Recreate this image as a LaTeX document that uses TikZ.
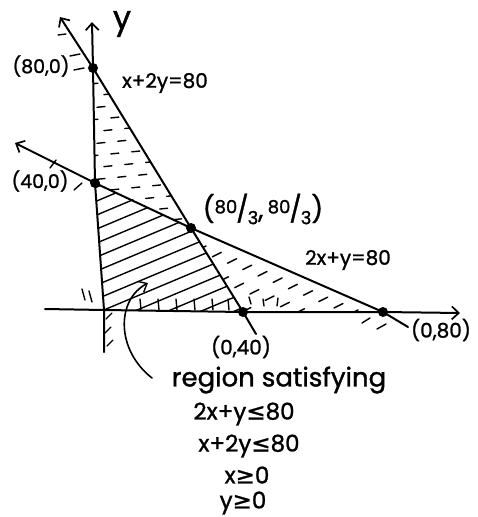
\documentclass[tikz,border=0pt]{standalone}
\usepackage{fontspec}
\setmainfont{Poppins}[FakeBold=1.2]
\newfontfamily\symf{DejaVu Sans}[FakeBold=1.2]
\usetikzlibrary{arrows.meta}
\begin{document}
\begin{tikzpicture}[x=1pt,y=-1pt,
  ink/.style={line width=2pt,line cap=round,line join=round},
  axisarrow/.style={ink,-{Straight Barb[length=7pt,width=13pt,line width=1.7pt]}},
  hatch/.style={line width=1.4pt,line cap=round},
  vdot/.style={circle,fill=black,inner sep=0pt,minimum size=10pt},
  lbl/.style={inner sep=0pt,font=\fontsize{20}{20}\selectfont},
  cons/.style={inner sep=0pt,font=\fontsize{23}{23}\selectfont},
  big/.style={inner sep=0pt,font=\fontsize{26}{26}\selectfont}]
\useasboundingbox (0,0) rectangle (477,517);
% key points
\coordinate (O) at (104,310);
\coordinate (A) at (95,183);
\coordinate (C) at (93,68);
\coordinate (P) at (191,228);
\coordinate (B) at (243,312);
\coordinate (D) at (383,312);
\coordinate (ybot) at (104,352);
\coordinate (ytop) at (92,22);
\coordinate (xl) at (45,309);
\coordinate (xr) at (460,313);
\coordinate (ltop) at (60,17);
\coordinate (lend) at (256,334);
\coordinate (mtop) at (15,143);
\coordinate (mend) at (408,327);
% feasible region hatching
\begin{scope}
\clip (O) -- (A) -- (P) -- (B) -- cycle;
\foreach \c in {180,194,...,420}
  \draw[hatch] (80,\c) -- (280,\c-84);
\foreach \x in {140,158,176,194,212,228}
  \draw[hatch] (\x,299) -- (\x+1,310);
\end{scope}
% upper wedge dashes
\begin{scope}
\clip (C) -- (A) -- (P) -- cycle;
\foreach \c [count=\k] in {60,72,...,240}
  \draw[hatch,dash pattern=on 8pt off 13pt,dash phase=\k*7pt] (90,\c) -- (200,\c-11);
\end{scope}
% lower right wedge dashes
\begin{scope}
\clip (P) -- (B) -- (D) -- cycle;
\foreach \c [count=\k] in {240,254,...,420}
  \draw[hatch,dash pattern=on 10pt off 16pt,dash phase=\k*9pt] (190,\c) -- (400,\c-105);
\end{scope}
% extra ticks
\foreach \a/\b/\c/\d in {70/56/80/54, 74/70/84/68, 58/35/66/34, 50/168/56/160, 74/190/82/183,
  82/289/85/300, 89/291/92/302, 106/319/112/313, 105/333/111/327, 107/346/113/340,
  249/297/251/304, 263/299/264/306, 278/298/277/306, 362/323/370/318, 377/329/386/324}
  \draw[hatch] (\a,\b) -- (\c,\d);
% axes
\draw[axisarrow] (ybot) -- (O) -- (A) -- (C) -- (ytop);
\draw[axisarrow] (xl) -- (O) -- (B) -- (D) -- (xr);
% constraint lines
\draw[axisarrow] (lend) -- (B) -- (P) -- (C) -- (ltop);
\draw[axisarrow] (mend) -- (D) -- (P) -- (A) -- (mtop);
% vertices
\foreach \p in {C,A,P,B,D} \node[vdot] at (\p) {};
% labels
\node[inner sep=0pt,font=\fontsize{32}{32}\selectfont] (ylab) at (122,24) {y};
\node[lbl,font=\fontsize{19}{19}\selectfont] (lC) at (41,66) {(80,0)};
\node[lbl,font=\fontsize{19}{19}\selectfont] (lA) at (40,181) {(40,0)};
\node[lbl] (lL) at (165,83) {x+2y=80};
\node[lbl] (lM) at (348,260) {2x+y=80};
\node[lbl] (lP) at (263,209) {\fontsize{26}{26}\selectfont(\raisebox{5pt}{\fontsize{18}{18}\selectfont 80}\kern-1pt/\kern-1pt\raisebox{-6pt}{\fontsize{18}{18}\selectfont 3},\,\raisebox{5pt}{\fontsize{18}{18}\selectfont 80}\kern-1pt/\kern-1pt\raisebox{-6pt}{\fontsize{18}{18}\selectfont 3})};
\node[lbl] (lB) at (241,347) {(0,40)};
\node[lbl] (lD) at (441,330) {(0,80)};
\node[big] (reg) at (279,380) {region satisfying};
\node[cons] (c1) at (244,414) {2x+y{\symf ≤}80};
\node[cons] (c2) at (249,446) {x+2y{\symf ≤}80};
\node[cons] (c3) at (247,475) {x{\symf ≥}0};
\node[cons] (c4) at (243,503) {y{\symf ≥}0};
% curved pointer
\coordinate (cs) at (152,378);
\coordinate (ct) at (148,283);
\draw[ink,line width=1.6pt,-{Straight Barb[length=7pt,width=12pt,line width=1.4pt]}] (cs) .. controls (116,350) and (116,300) .. (ct);
\end{tikzpicture}
\end{document}
